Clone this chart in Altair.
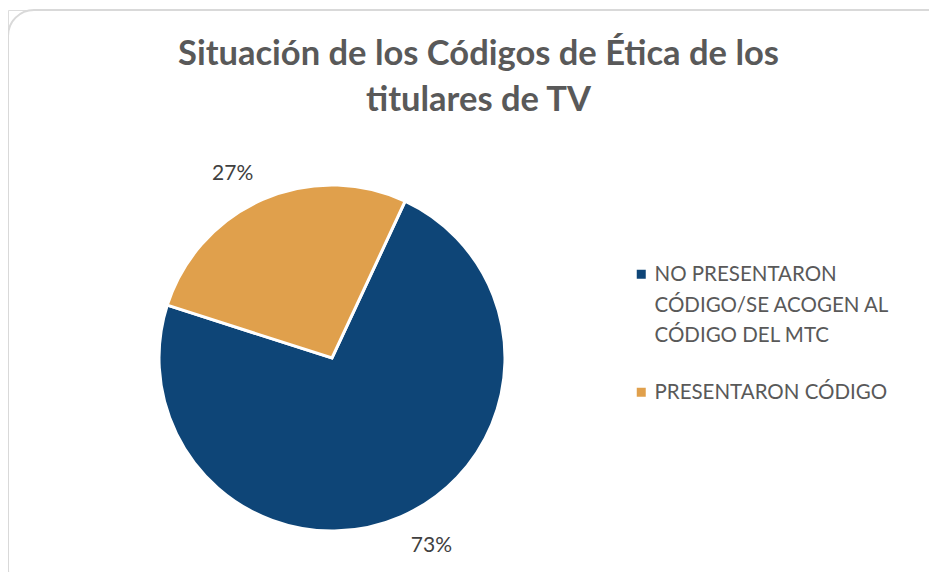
import math
import altair as alt
import pandas as pd

categories = ["NO PRESENTARON\nCÓDIGO/SE ACOGEN AL\nCÓDIGO DEL MTC", "PRESENTARON CÓDIGO"]
values = [73, 27]
pct_labels = ["73%", "27%"]
colors = ["#0E4577", "#E0A04C"]
order = [0, 1]

title_lines = ["Situación de los Códigos de Ética de los", "titulares de TV"]

df = pd.DataFrame({"categoria": categories, "valor": values, "etiqueta": pct_labels, "orden": order})

start = math.radians(25)
label_start = math.radians(20.5)
two_pi = 2 * math.pi

cx, cy = 324, 348

base = alt.Chart(df)

arcs = base.mark_arc(radius=173, stroke="white", strokeWidth=3).encode(
    theta=alt.Theta("valor:Q", stack=True, scale=alt.Scale(range=[start, start + two_pi])),
    order=alt.Order("orden:Q"),
    color=alt.Color(
        "categoria:N",
        scale=alt.Scale(domain=categories, range=colors),
        legend=alt.Legend(
            title=None,
            orient="none",
            legendX=623,
            legendY=254,
            symbolType="square",
            symbolSize=81,
            symbolStrokeWidth=0,
            labelFont="Lato",
            labelFontSize=20.5,
            labelColor="#595959",
            labelOffset=3,
            labelLimit=400,
            rowPadding=35,
            labelBaseline="top",
            labelExpr="split(datum.label, '\\n')",
        ),
    ),
    x=alt.value(cx),
    y=alt.value(cy),
)

labels = base.mark_text(
    radius=211, font="Lato", fontSize=21, color="#404040", align="center", baseline="middle", dy=2
).encode(
    theta=alt.Theta("valor:Q", stack=True, scale=alt.Scale(range=[label_start, label_start + two_pi])),
    order=alt.Order("orden:Q"),
    text="etiqueta:N",
    x=alt.value(cx),
    y=alt.value(cy),
)

border = alt.Chart(pd.DataFrame({"b": [0]})).mark_rect(
    fill=None, stroke="#D9D9D9", strokeWidth=2, cornerRadius=26
).encode(
    x=alt.value(0), x2=alt.value(945), y=alt.value(0), y2=alt.value(585)
)

chart = alt.layer(border, arcs, labels).resolve_scale(theta="independent").properties(
    width=921,
    height=562,
    autosize=alt.AutoSizeParams(type="none"),
    padding={"left": 0, "top": 2, "right": 0, "bottom": 0},
    title=alt.TitleParams(
        text=title_lines,
        font="Lato",
        fontSize=34.5,
        fontWeight="bold",
        color="#595959",
        anchor="middle",
        frame="group",
        lineHeight=46,
        dx=10,
        dy=113,
    ),
).configure_view(stroke=None).configure(
    style={"guide-label": {"lineHeight": 30.5, "dy": -9}}
)

chart.save("out.html", embed_options={"renderer": "svg", "actions": False})
